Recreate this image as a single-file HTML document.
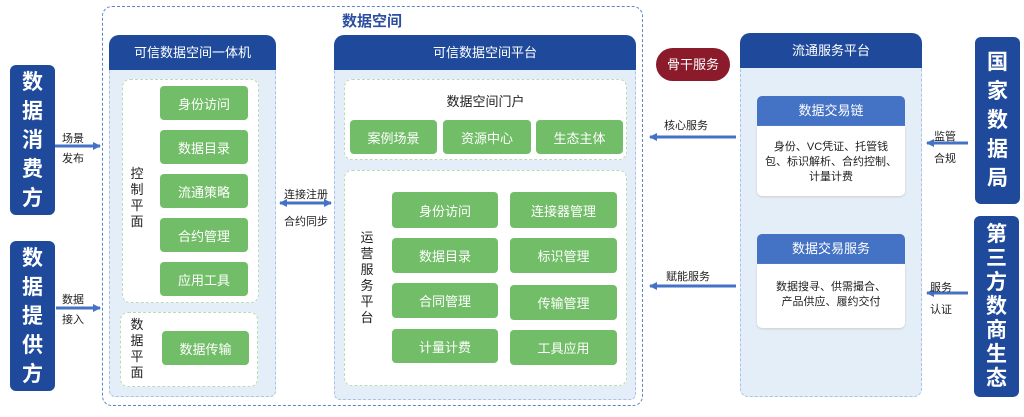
<!DOCTYPE html>
<html><head><meta charset="utf-8"><style>
*{margin:0;padding:0;box-sizing:border-box}
body{width:1024px;height:417px;background:#fff;position:relative;overflow:hidden;font-family:"Liberation Sans","Noto Sans CJK SC",sans-serif}
.a{position:absolute}
.side{position:absolute;background:#1f4a9c;border-radius:6px;color:#fff;font-weight:bold;font-size:21px;line-height:29px;display:flex;align-items:center;justify-content:center;text-align:center;width:45px}
.hd{position:absolute;background:#1f4a9c;color:#fff;font-size:13px;text-align:center;border-radius:10px 10px 0 0}
.body{position:absolute;background:#e4eef8;border:1px dashed #a9c3e3;border-radius:0 0 6px 6px}
.wb{position:absolute;background:#fff;border:1px dashed #b9dcb6;border-radius:8px}
.g{position:absolute;background:#72bd68;color:#fff;font-size:13px;border-radius:4px;display:flex;align-items:center;justify-content:center}
.lbl{position:absolute;font-size:11px;color:#222;text-align:center;line-height:14px}
.vt{position:absolute;font-size:13px;color:#222;width:14px;line-height:16px;text-align:center}
.sh{position:absolute;background:#4472c4;color:#fff;font-size:13px;text-align:center;border-radius:5px 5px 0 0}
.sb{position:absolute;background:#fff;border-radius:0 0 5px 5px;font-size:11px;color:#222;text-align:center;line-height:15px;box-shadow:0 1px 2px #ccc}
</style></head><body>
<div class="side" style="left:10px;top:65px;height:150px">数<br>据<br>消<br>费<br>方</div>
<div class="side" style="left:10px;top:241px;height:150px">数<br>据<br>提<br>供<br>方</div>
<div class="side" style="left:975px;top:37px;height:167px">国<br>家<br>数<br>据<br>局</div>
<div class="side" style="left:974px;top:216px;height:181px;line-height:24px">第<br>三<br>方<br>数<br>商<br>生<br>态</div>

<div class="a" style="left:102px;top:6px;width:541px;height:400px;border:1.5px dashed #5b86c9;border-radius:10px"></div>
<div class="a" style="left:342px;top:10px;font-size:15px;font-weight:bold;color:#2b4ea0">数据空间</div>

<!-- 一体机 -->
<div class="body" style="left:109px;top:68px;width:167px;height:329px"></div>
<div class="hd" style="left:109px;top:35px;width:167px;height:35px;line-height:35px">可信数据空间一体机</div>
<div class="wb" style="left:122px;top:79px;width:137px;height:224px"></div>
<div class="vt" style="left:130px;top:166px">控<br>制<br>平<br>面</div>
<div class="g" style="left:160px;top:86px;width:88px;height:34px">身份访问</div>
<div class="g" style="left:160px;top:130px;width:88px;height:34px">数据目录</div>
<div class="g" style="left:160px;top:174px;width:88px;height:34px">流通策略</div>
<div class="g" style="left:160px;top:218px;width:88px;height:34px">合约管理</div>
<div class="g" style="left:160px;top:262px;width:88px;height:34px">应用工具</div>
<div class="wb" style="left:120px;top:312px;width:138px;height:75px"></div>
<div class="vt" style="left:130px;top:317px">数<br>据<br>平<br>面</div>
<div class="g" style="left:162px;top:331px;width:87px;height:34px">数据传输</div>

<!-- platform -->
<div class="body" style="left:334px;top:68px;width:302px;height:332px"></div>
<div class="hd" style="left:334px;top:35px;width:302px;height:35px;line-height:35px">可信数据空间平台</div>
<div class="wb" style="left:344px;top:79px;width:283px;height:81px"></div>
<div class="a" style="left:344px;top:91px;width:283px;text-align:center;font-size:13px;color:#222">数据空间门户</div>
<div class="g" style="left:350px;top:120px;width:87px;height:34px">案例场景</div>
<div class="g" style="left:443px;top:120px;width:88px;height:34px">资源中心</div>
<div class="g" style="left:536px;top:120px;width:87px;height:34px">生态主体</div>
<div class="wb" style="left:344px;top:170px;width:283px;height:216px"></div>
<div class="vt" style="left:360px;top:230px">运<br>营<br>服<br>务<br>平<br>台</div>
<div class="g" style="left:392px;top:192px;width:106px;height:36px">身份访问</div>
<div class="g" style="left:510px;top:192px;width:107px;height:36px">连接器管理</div>
<div class="g" style="left:392px;top:238px;width:106px;height:35px">数据目录</div>
<div class="g" style="left:510px;top:238px;width:107px;height:35px">标识管理</div>
<div class="g" style="left:392px;top:283px;width:106px;height:35px">合同管理</div>
<div class="g" style="left:510px;top:285px;width:107px;height:35px">传输管理</div>
<div class="g" style="left:392px;top:329px;width:106px;height:34px">计量计费</div>
<div class="g" style="left:510px;top:330px;width:107px;height:35px">工具应用</div>

<div class="a" style="left:656px;top:48px;width:74px;height:33px;border-radius:17px;background:#8b1a2b;color:#fff;font-size:13px;line-height:33px;text-align:center">骨干服务</div>

<!-- 流通 -->
<div class="body" style="left:740px;top:66px;width:182px;height:331px;border-radius:0 0 8px 8px"></div>
<div class="hd" style="left:740px;top:33px;width:182px;height:35px;line-height:35px">流通服务平台</div>
<div class="sh" style="left:757px;top:96px;width:148px;height:30px;line-height:30px">数据交易链</div>
<div class="sb" style="left:757px;top:126px;width:148px;height:70px;padding:14px 6px 0">身份、VC凭证、托管钱包、标识解析、合约控制、计量计费</div>
<div class="sh" style="left:757px;top:234px;width:148px;height:30px;line-height:30px">数据交易服务</div>
<div class="sb" style="left:757px;top:264px;width:148px;height:64px;padding:16px 4px 0">数据搜寻、供需撮合、<br>产品供应、履约交付</div>

<svg class="a" style="left:0;top:0" width="1024" height="417">
<defs><marker id="m" markerWidth="8" markerHeight="8" refX="7" refY="4" orient="auto-start-reverse" markerUnits="userSpaceOnUse"><path d="M0,0 L8,4 L0,8 Z" fill="#4472c4"/></marker></defs>
<g stroke="#4472c4" stroke-width="3" fill="none">
<line x1="55" y1="146" x2="100" y2="146" marker-end="url(#m)"/>
<line x1="56" y1="308" x2="100" y2="308" marker-end="url(#m)"/>
<line x1="280" y1="203" x2="331" y2="203" marker-end="url(#m)" marker-start="url(#m)"/>
<line x1="736" y1="137" x2="650" y2="137" marker-end="url(#m)"/>
<line x1="736" y1="286" x2="650" y2="286" marker-end="url(#m)"/>
<line x1="968" y1="143" x2="927" y2="143" marker-end="url(#m)"/>
<line x1="968" y1="293" x2="927" y2="293" marker-end="url(#m)"/>
</g></svg>
<div class="lbl" style="left:62px;top:129px;line-height:20px">场景<br>发布</div>
<div class="lbl" style="left:62px;top:290px;line-height:20px">数据<br>接入</div>
<div class="lbl" style="left:280px;top:182px;width:52px;line-height:27px">连接注册<br>合约同步</div>
<div class="lbl" style="left:664px;top:119px">核心服务</div>
<div class="lbl" style="left:666px;top:270px">赋能服务</div>
<div class="lbl" style="left:934px;top:126px;line-height:22px">监管<br>合规</div>
<div class="lbl" style="left:930px;top:277px;line-height:22px">服务<br>认证</div>
</body></html>
